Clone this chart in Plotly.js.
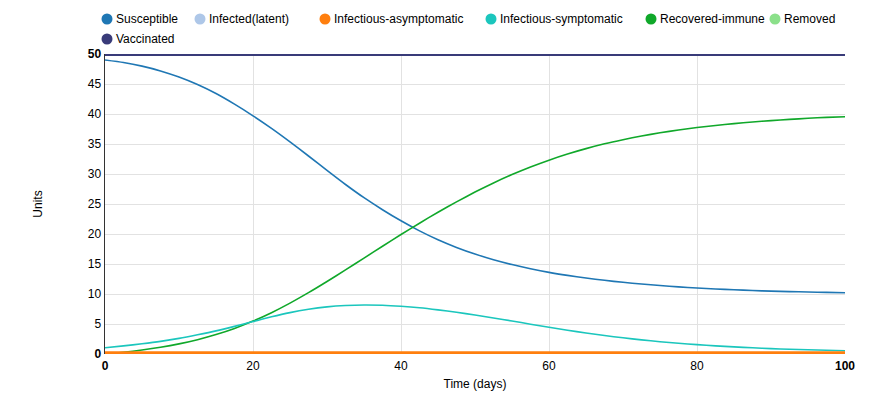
<!DOCTYPE html>
<html>
<head>
<meta charset="utf-8">
<script src="https://cdn.plot.ly/plotly-3.0.1.min.js"></script>
<style>html,body{margin:0;padding:0;background:#fff;}#chart{width:893px;height:416px;}</style>
</head>
<body>
<div id="chart"></div>
<script>
// ---- data (step 2.5 days) ----
var days = [0,2.5,5,7.5,10,12.5,15,17.5,20,22.5,25,27.5,30,32.5,35,37.5,40,42.5,45,47.5,50,
            52.5,55,57.5,60,62.5,65,67.5,70,72.5,75,77.5,80,82.5,85,87.5,90,92.5,95,97.5,100];
var susceptible = [49.0,48.58,47.98,47.18,46.16,44.91,43.41,41.64,39.7,37.6,35.35,33.0,30.6,28.25,26.05,24.05,22.2,20.52,19.04,17.76,16.66,
                   15.71,14.91,14.21,13.6,13.1,12.66,12.28,11.95,11.66,11.41,11.19,11.0,10.84,10.7,10.58,10.48,10.4,10.33,10.27,10.22];
var infectedLatent = [0,0,0,0,0,0,0,0,0,0,0,0,0,0,0,0,0,0,0,0,0,0,0,0,0,0,0,0,0,0,0,0,0,0,0,0,0,0,0,0,0];
var infectiousAsym = [0,0,0,0,0,0,0,0,0,0,0,0,0,0,0,0,0,0,0,0,0,0,0,0,0,0,0,0,0,0,0,0,0,0,0,0,0,0,0,0,0];
var infectiousSym = [1.05,1.35,1.7,2.1,2.6,3.2,3.85,4.6,5.4,6.2,6.9,7.45,7.85,8.08,8.17,8.12,7.95,7.7,7.35,6.95,6.5,
                     6.0,5.5,4.97,4.45,3.96,3.5,3.08,2.7,2.36,2.05,1.79,1.56,1.36,1.18,1.03,0.9,0.79,0.7,0.62,0.55];
var recovered = [0,0.29,0.66,1.12,1.69,2.39,3.25,4.27,5.49,6.89,8.48,10.22,12.08,14.01,15.98,17.96,19.91,21.8,23.63,25.36,26.99,
                 28.51,29.9,31.17,32.31,33.33,34.23,35.03,35.72,36.34,36.87,37.34,37.74,38.09,38.4,38.66,38.9,39.1,39.28,39.44,39.55];
var removed = [0,0,0,0,0,0,0,0,0,0,0,0,0,0,0,0,0,0,0,0,0,0,0,0,0,0,0,0,0,0,0,0,0,0,0,0,0,0,0,0,0];
var vaccinated = [50,50,50,50,50,50,50,50,50,50,50,50,50,50,50,50,50,50,50,50,50,50,50,50,50,50,50,50,50,50,50,50,50,50,50,50,50,50,50,50,50];

var seriesNames = ['Susceptible','Infected(latent)','Infectious-asymptomatic','Infectious-symptomatic','Recovered-immune','Removed','Vaccinated'];
var seriesColors = ['#1f77b4','#aec7e8','#ff7f0e','#1bc6bd','#10a82a','#8be08a','#393b79'];
var seriesValues = [susceptible, infectedLatent, infectiousAsym, infectiousSym, recovered, removed, vaccinated];

var xTickVals = [0,20,40,60,80,100];
var xTickText = ['<b>0</b>','20','40','60','80','<b>100</b>'];
var yTickVals = [0,5,10,15,20,25,30,35,40,45,50];
var yTickText = ['<b>0</b>','5','10','15','20','25','30','35','40','45','<b>50</b>'];

// ---- traces ----
var drawOrder = [1,5,0,4,3,6,2];
var widths = [1.6,1.6,5.5,1.6,1.6,1.6,4];
var traces = drawOrder.map(function(i){
  return {x: days, y: seriesValues[i], name: seriesNames[i], type:'scatter', mode:'lines',
          line:{color: seriesColors[i], width: widths[i], shape:'spline', smoothing:0.6},
          showlegend:false, hoverinfo:'x+y+name', cliponaxis:false};
});

// ---- custom legend (layout) ----
var L = 105, R = 845, T = 54, B = 354;
function px2x(p){ return (p - L) / (R - L); }
function py2y(p){ return (B - p) / (B - T); }
var legendPos = [[107,19],[200,19],[325,19],[491,19],[651,19],[775,19],[107,39]];
var shapes = [], annotations = [];
seriesNames.forEach(function(n, i){
  var cx = px2x(legendPos[i][0]), cy = py2y(legendPos[i][1]);
  shapes.push({type:'circle', xref:'paper', yref:'paper', xsizemode:'pixel', ysizemode:'pixel',
    xanchor:cx, yanchor:cy, x0:-5.5, x1:5.5, y0:-5.5, y1:5.5,
    fillcolor: seriesColors[i], line:{width:0}});
  annotations.push({xref:'paper', yref:'paper', x: px2x(legendPos[i][0] + 7.5), y: cy,
    xanchor:'left', yanchor:'middle', showarrow:false, text:n, borderpad:0,
    font:{family:'Liberation Sans, Arial, sans-serif', size:12, color:'#000'}});
});

var layout = {
  width: 893, height: 416,
  margin: {l: L, r: 893 - R, t: T, b: 416 - B},
  paper_bgcolor:'#fff', plot_bgcolor:'#fff',
  font:{family:'Liberation Sans, Arial, sans-serif', size:12, color:'#000'},
  showlegend:false,
  xaxis:{range:[0,100], tickvals:xTickVals, ticktext:xTickText, showgrid:true, gridcolor:'#e2e2e2', gridwidth:1,
    zeroline:false, showline:false, ticks:'', ticklabelstandoff:3, layer:'below traces',
    title:{text:'Time (days)', standoff:7, font:{size:12}}},
  yaxis:{range:[0,50], tickvals:yTickVals, ticktext:yTickText, showgrid:true, gridcolor:'#e2e2e2', gridwidth:1,
    zeroline:false, showline:true, linecolor:'#333', linewidth:1.5, ticks:'', layer:'below traces',
    title:{text:'Units', standoff:42, font:{size:12}}},
  shapes: shapes,
  annotations: annotations
};

Plotly.newPlot('chart', traces, layout, {displayModeBar:false, staticPlot:true});
</script>
</body>
</html>
